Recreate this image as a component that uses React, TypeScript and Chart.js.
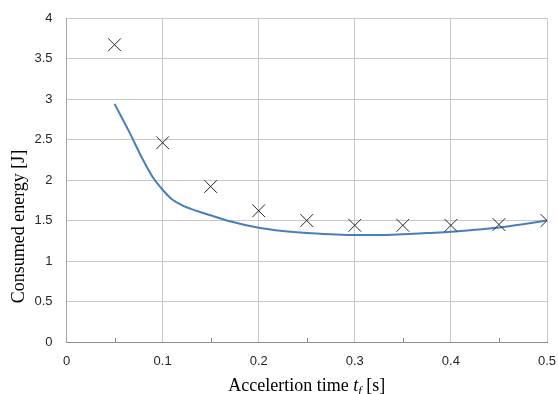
import React, { useEffect, useRef } from "react";
import { Chart, registerables } from "chart.js";

Chart.register(...registerables);

// Measured points (markers)
const measuredT = [0.05, 0.1, 0.15, 0.2, 0.25, 0.3, 0.35, 0.4, 0.45, 0.5];
const measuredE = [3.67, 2.46, 1.92, 1.62, 1.5, 1.44, 1.44, 1.44, 1.45, 1.5];

// Simulated curve
const curveT = [0.05, 0.065, 0.08, 0.09, 0.1, 0.11, 0.12, 0.135, 0.15, 0.17, 0.2, 0.225, 0.25, 0.275, 0.3, 0.325, 0.35, 0.375, 0.4, 0.425, 0.45, 0.475, 0.5];
const curveE = [2.94, 2.6, 2.24, 2.03, 1.88, 1.76, 1.69, 1.62, 1.565, 1.49, 1.41, 1.37, 1.345, 1.33, 1.32, 1.32, 1.33, 1.345, 1.36, 1.385, 1.415, 1.455, 1.5];

const xTitleParts = ["Accelertion time ", "t", "f", " [s]"];
const yTitle = "Consumed energy [J]";

const SERIF = "'Liberation Serif', 'Times New Roman', serif";
const SANS = "'Liberation Sans', Arial, sans-serif";

const titlePlugin = {
  id: "customTitles",
  afterDraw(chart: any) {
    const ctx = chart.ctx;
    const area = chart.chartArea;
    const xs = chart.scales.x;
    ctx.save();
    // minor tick marks on x axis
    ctx.strokeStyle = "#808080";
    ctx.lineWidth = 1;
    for (let v = 0.05; v < 0.5; v += 0.1) {
      const px = Math.round(xs.getPixelForValue(v)) + 0.5;
      ctx.beginPath();
      ctx.moveTo(px, area.bottom);
      ctx.lineTo(px, area.bottom - 4);
      ctx.stroke();
    }
    // x title with italic t and subscript f
    ctx.fillStyle = "#000";
    ctx.textBaseline = "alphabetic";
    ctx.textAlign = "left";
    const fonts = [
      `18px ${SERIF}`,
      `italic 18px ${SERIF}`,
      `italic 12px ${SERIF}`,
      `18px ${SERIF}`,
    ];
    const dys = [0, 0, 4, 0];
    let total = 0;
    const widths: number[] = [];
    xTitleParts.forEach((p, i) => {
      ctx.font = fonts[i];
      const w = ctx.measureText(p).width;
      widths.push(w);
      total += w;
    });
    let x = (area.left + area.right) / 2 - total / 2;
    const baseY = 391;
    xTitleParts.forEach((p, i) => {
      ctx.font = fonts[i];
      ctx.fillText(p, x, baseY + dys[i]);
      x += widths[i];
    });
    // y title
    ctx.translate(24, 226.5);
    ctx.rotate(-Math.PI / 2);
    ctx.textAlign = "center";
    ctx.font = `18px ${SERIF}`;
    ctx.fillText(yTitle, 0, 0);
    ctx.restore();
  },
};

const fmt = (v: any) => String(Math.round(Number(v) * 10) / 10);

export default function App() {
  const ref = useRef<HTMLCanvasElement>(null);
  useEffect(() => {
    if (!ref.current) return;
    const chart = new Chart(ref.current, {
      type: "scatter",
      data: {
        datasets: [
          {
            type: "scatter",
            label: "Measured",
            data: measuredT.map((t, i) => ({ x: t, y: measuredE[i] })),
            pointStyle: "crossRot",
            pointRadius: 9,
            pointBorderColor: "#262626",
            pointBackgroundColor: "#262626",
            pointBorderWidth: 1,
            showLine: false,
          } as any,
          {
            type: "line",
            label: "Simulated",
            data: curveT.map((t, i) => ({ x: t, y: curveE[i] })),
            borderColor: "#4a7ebb",
            borderWidth: 2,
            pointRadius: 0,
            tension: 0.4,
            cubicInterpolationMode: "monotone",
            fill: false,
          } as any,
        ],
      },
      options: {
        responsive: false,
        animation: false,
        layout: { padding: { top: 18, right: 11, left: 0, bottom: 0 } },
        plugins: {
          legend: { display: false },
          tooltip: { enabled: false },
        },
        scales: {
          x: {
            type: "linear",
            min: 0,
            max: 0.5,
            afterFit: (s: any) => {
              s.height = 52;
              s.paddingLeft = 0;
              s.paddingRight = 0;
            },
            ticks: {
              stepSize: 0.1,
              padding: 12,
              color: "#262626",
              font: { family: SANS, size: 13 },
              callback: fmt,
            },
            grid: { color: "#c8c8c8", lineWidth: 1, drawTicks: false },
            border: { color: "#8c8c8c", width: 1 },
          },
          y: {
            min: 0,
            max: 4,
            afterFit: (s: any) => {
              s.width = 66.5;
              s.paddingTop = 0;
              s.paddingBottom = 0;
            },
            ticks: {
              stepSize: 0.5,
              padding: 14,
              color: "#262626",
              font: { family: SANS, size: 13 },
              callback: fmt,
            },
            grid: { color: "#c8c8c8", lineWidth: 1, drawTicks: false },
            border: { color: "#a6a6a6", width: 1 },
          },
        },
      },
      plugins: [titlePlugin],
    });
    return () => chart.destroy();
  }, []);
  return (
    <canvas
      ref={ref}
      width={558}
      height={394}
      style={{ position: "fixed", left: 0, top: 0, width: 558, height: 394 }}
    />
  );
}
